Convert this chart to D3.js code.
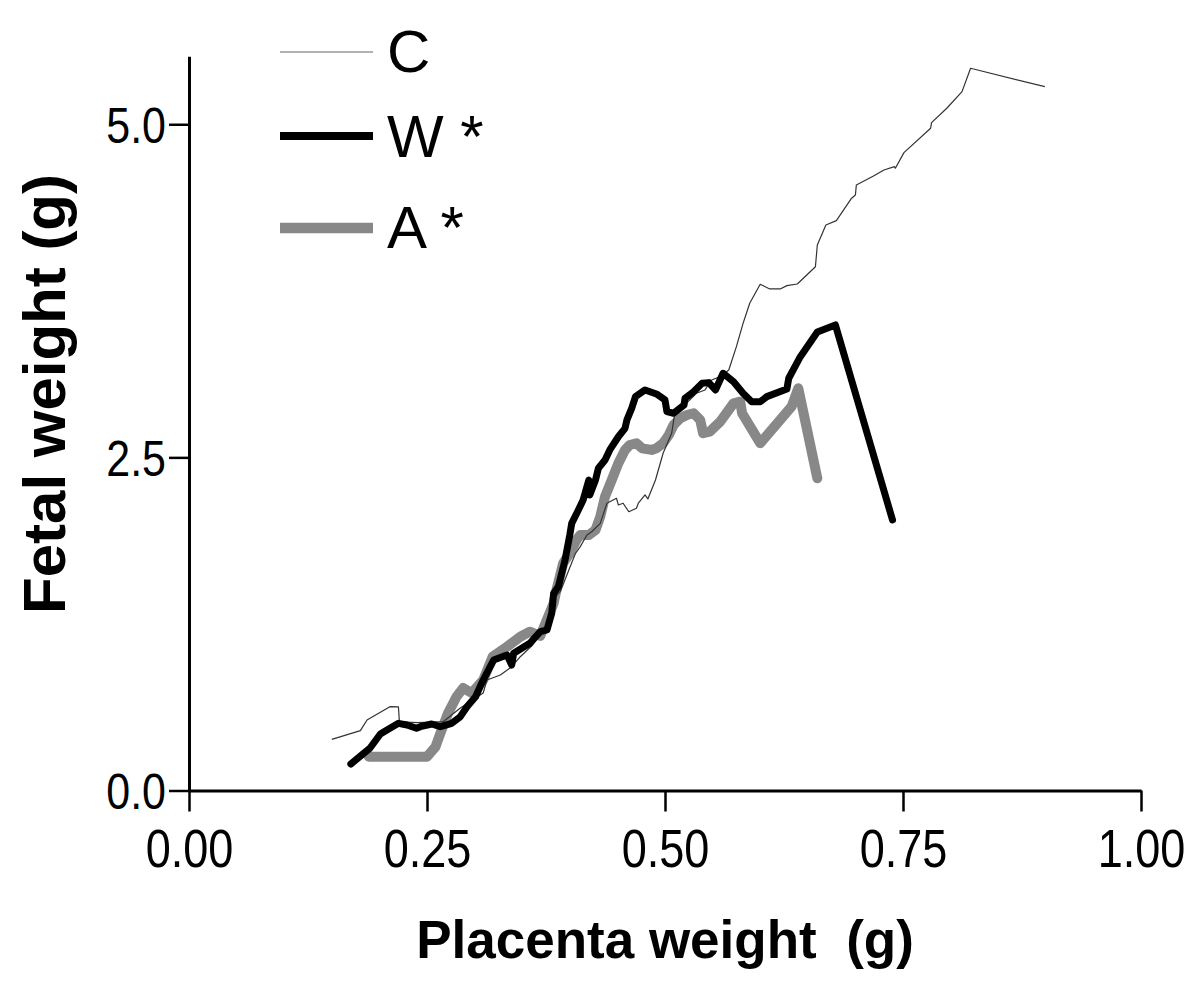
<!DOCTYPE html>
<html>
<head>
<meta charset="utf-8">
<script src="https://cdn.jsdelivr.net/npm/d3@7"></script>
<style>
  html, body { margin: 0; padding: 0; background: #fff; }
  svg { display: block; }
  text { font-family: "Liberation Sans", Arial, sans-serif; fill: #000; }
</style>
</head>
<body>
<svg id="chart" width="1200" height="989"></svg>
<script>
// ---- Data ----
const seriesNames = ["C", "W *", "A *"];

// C (control) – thin line
const cX = [0.150,0.180,0.187,0.211,0.220,0.221,0.240,0.262,0.267,0.285,0.298,0.309,0.313,0.327,0.339,0.348,0.361,0.374,0.385,0.390,0.399,0.406,0.411,0.418,0.423,0.432,0.439,0.449,0.451,0.456,0.462,0.470,0.472,0.479,0.482,0.490,0.498,0.507,0.510,0.533,0.542,0.549,0.558,0.567,0.575,0.582,0.589,0.600,0.610,0.621,0.628,0.639,0.658,0.660,0.669,0.680,0.696,0.700,0.701,0.719,0.730,0.741,0.742,0.751,0.779,0.780,0.796,0.812,0.821,0.899];
const cY = [0.384,0.449,0.529,0.629,0.627,0.516,0.510,0.516,0.516,0.619,0.679,0.732,0.829,0.867,0.929,1.004,1.092,1.220,1.455,1.492,1.655,1.780,1.830,1.918,1.942,2.005,2.156,2.193,2.143,2.156,2.092,2.118,2.156,2.218,2.188,2.330,2.531,2.681,2.818,2.981,3.006,3.081,3.106,3.156,3.331,3.506,3.657,3.799,3.764,3.764,3.789,3.801,3.931,4.094,4.244,4.277,4.445,4.469,4.544,4.612,4.657,4.682,4.670,4.787,4.970,5.012,5.120,5.245,5.420,5.282];

// W – thick black line
const wX = [0.170,0.190,0.201,0.208,0.220,0.229,0.239,0.243,0.255,0.264,0.276,0.285,0.292,0.301,0.309,0.320,0.334,0.339,0.341,0.358,0.369,0.376,0.381,0.383,0.388,0.395,0.400,0.402,0.409,0.414,0.420,0.421,0.427,0.430,0.437,0.442,0.451,0.458,0.460,0.465,0.469,0.479,0.491,0.500,0.502,0.509,0.520,0.521,0.530,0.539,0.546,0.553,0.561,0.572,0.582,0.591,0.600,0.607,0.628,0.630,0.642,0.660,0.679,0.739];
const wY = [0.199,0.317,0.424,0.454,0.504,0.492,0.467,0.479,0.499,0.479,0.504,0.554,0.629,0.704,0.829,0.979,1.017,0.942,1.030,1.105,1.192,1.205,1.330,1.480,1.530,1.730,1.918,2.005,2.105,2.180,2.330,2.218,2.330,2.418,2.480,2.556,2.655,2.718,2.781,2.868,2.956,3.006,2.976,2.931,2.843,2.831,2.893,2.944,2.993,3.056,3.061,3.006,3.131,3.068,2.981,2.918,2.918,2.956,3.013,3.094,3.254,3.441,3.494,2.030];

// A – thick grey line
const aX = [0.189,0.250,0.259,0.264,0.272,0.281,0.288,0.297,0.309,0.319,0.334,0.348,0.358,0.369,0.383,0.386,0.393,0.400,0.407,0.411,0.420,0.427,0.432,0.437,0.444,0.451,0.458,0.463,0.470,0.476,0.486,0.491,0.498,0.504,0.509,0.516,0.523,0.530,0.537,0.540,0.547,0.558,0.572,0.579,0.581,0.600,0.633,0.640,0.660];
const aY = [0.254,0.254,0.329,0.429,0.579,0.704,0.769,0.732,0.829,1.004,1.079,1.154,1.192,1.160,1.405,1.505,1.705,1.780,1.880,1.918,1.918,1.955,2.055,2.205,2.330,2.456,2.556,2.593,2.606,2.568,2.556,2.568,2.606,2.668,2.743,2.793,2.818,2.831,2.781,2.681,2.693,2.768,2.906,2.918,2.831,2.606,2.881,3.019,2.343];

const xTicks = [0, 0.25, 0.5, 0.75, 1.0];
const yTicks = [0, 2.5, 5.0];
const xTitle = "Placenta weight  (g)";
const yTitle = "Fetal weight (g)";

// ---- Chart ----
const svg = d3.select("#chart");
const x = d3.scaleLinear().domain([0, 1]).range([189, 1141]);
const y = d3.scaleLinear().domain([0, 5.51]).range([790.5, 56.3]);

// Axes
const yAxis = d3.axisLeft(y).tickValues(yTicks).tickFormat(d3.format(".1f"))
  .tickSize(20).tickSizeOuter(0);
const gy = svg.append("g").attr("transform", `translate(${x(0)},0)`).call(yAxis);
gy.select(".domain").attr("stroke", "#000").attr("stroke-width", 3);
gy.selectAll(".tick line").attr("stroke", "#000").attr("stroke-width", 2.5);
const ySx = 0.86;
gy.selectAll(".tick text")
  .attr("font-size", 50).attr("font-family", "Liberation Sans, Arial, sans-serif")
  .attr("fill", "#000")
  .attr("x", null).attr("dy", "0.36em")
  .attr("transform", `translate(-23,0) scale(${ySx},1)`);

const xAxis = d3.axisBottom(x).tickValues(xTicks).tickFormat(d3.format(".2f"))
  .tickSize(21).tickSizeOuter(0);
const gx = svg.append("g").attr("transform", `translate(0,${y(0)})`).call(xAxis);
gx.select(".domain").attr("stroke", "#000").attr("stroke-width", 3);
gx.selectAll(".tick line").attr("stroke", "#000").attr("stroke-width", 2.5);
gx.selectAll(".tick text")
  .attr("font-size", 53).attr("font-family", "Liberation Sans, Arial, sans-serif")
  .attr("fill", "#000")
  .attr("y", null).attr("dy", null)
  .attr("transform", `translate(0,76) scale(0.85,1)`);

// Lines
const line = d3.line().x(d => x(d[0])).y(d => y(d[1]));
const cData = d3.zip(cX, cY), wData = d3.zip(wX, wY), aData = d3.zip(aX, aY);

svg.append("path").datum(aData).attr("d", line)
  .attr("fill", "none").attr("stroke", "#888").attr("stroke-width", 10)
  .attr("stroke-linejoin", "round").attr("stroke-linecap", "round");
svg.append("path").datum(cData).attr("d", line)
  .attr("fill", "none").attr("stroke", "#333").attr("stroke-width", 1.2)
  .attr("stroke-linejoin", "round");
svg.append("path").datum(wData).attr("d", line)
  .attr("fill", "none").attr("stroke", "#000").attr("stroke-width", 7)
  .attr("stroke-linejoin", "round").attr("stroke-linecap", "round");

// Legend
const legendStyles = [
  {stroke: "#999", width: 1.5, ly: 52, ty: 72},
  {stroke: "#000", width: 8, ly: 136, ty: 157},
  {stroke: "#888", width: 10.5, ly: 228, ty: 248}
];
const lg = svg.append("g");
seriesNames.forEach((name, i) => {
  const s = legendStyles[i];
  lg.append("line").attr("x1", 280).attr("x2", 373).attr("y1", s.ly).attr("y2", s.ly)
    .attr("stroke", s.stroke).attr("stroke-width", s.width);
  lg.append("text").attr("x", 387).attr("y", s.ty).attr("font-size", 60)
    .style("white-space", "pre").text(name);
});

// Axis titles
svg.append("text").attr("x", 665).attr("y", 958).attr("text-anchor", "middle")
  .attr("font-size", 53).attr("font-weight", "bold").style("white-space", "pre")
  .text(xTitle);
svg.append("text").attr("transform", "translate(65,394) rotate(-90)")
  .attr("text-anchor", "middle").attr("font-size", 60).attr("font-weight", "bold")
  .text(yTitle);
</script>
</body>
</html>
